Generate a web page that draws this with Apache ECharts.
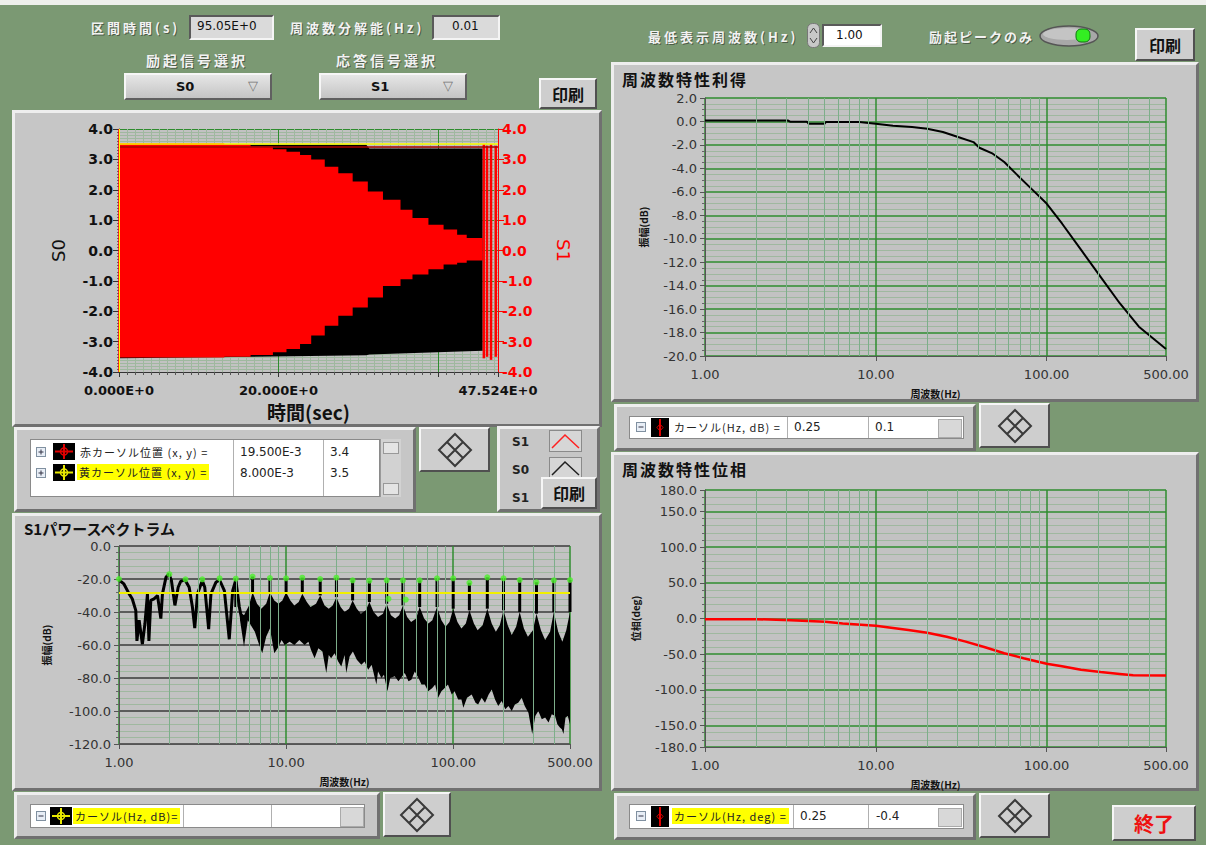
<!DOCTYPE html>
<html>
<head>
<meta charset="utf-8">
<title>周波数特性</title>
<script src="https://cdn.jsdelivr.net/npm/echarts@6/dist/echarts.min.js"></script>
<style>
  html, body { margin:0; padding:0; }
  body { width:1206px; height:845px; position:relative; overflow:hidden; background:#7b9973; font-family:"Noto Sans CJK JP", sans-serif; }
  #topStrip { position:absolute; left:0; top:0; width:1206px; height:5px; background:#eef0ec; }
  .lbl { position:absolute; color:#f2f2f2; font-size:13px; font-weight:bold; white-space:nowrap; letter-spacing:3px; text-shadow:1px 1px 0 #4d5d48; line-height:16px; }
  .panel { position:absolute; box-sizing:border-box; background:#c6c6c6; border:3px solid; border-color:#eeeeee #707070 #707070 #eeeeee; }
  .ind { position:absolute; box-sizing:border-box; background:#dadada; border:2px solid; border-color:#5a5a5a #f4f4f4 #f4f4f4 #5a5a5a; font:12px "DejaVu Sans"; color:#111; padding-left:6px; line-height:19px; }
  .btn { position:absolute; box-sizing:border-box; background:#cecece; border:2px solid; border-color:#f6f6f6 #505050 #505050 #f6f6f6; text-align:center; font-weight:bold; font-size:16px; color:#111; display:flex; align-items:center; justify-content:center; }
  .dd { position:absolute; box-sizing:border-box; background:linear-gradient(#e6e6e6,#c4c4c4); border:2px solid; border-color:#f6f6f6 #606060 #606060 #f6f6f6; font:bold 13px "DejaVu Sans"; color:#111; }
  .title { position:absolute; font-size:16px; font-weight:bold; color:#111; white-space:nowrap; letter-spacing:2px; line-height:18px; }
  .wbox { position:absolute; box-sizing:border-box; background:#ffffff; border:1px solid #8a8a8a; }
  .cell { position:absolute; font:12px "DejaVu Sans"; color:#222; white-space:nowrap; line-height:16px; }
  .jp { font-family:"Noto Sans CJK JP"; font-size:11px; letter-spacing:1px; }
  .vdiv { position:absolute; width:1px; background:#b0b0b0; }
  .hl { background:#ffff00; }
  #chart { position:absolute; left:0; top:0; width:1206px; height:845px; z-index:5; }
</style>
</head>
<body>
<div id="topStrip"></div>

<!-- 上段左の設定 -->
<div class="lbl" style="left:91px;top:20px">区間時間(s)</div>
<div class="ind" style="left:189px;top:15px;width:85px;height:25px">95.05E+0</div>
<div class="lbl" style="left:290px;top:20px">周波数分解能(Hz)</div>
<div class="ind" style="left:432px;top:15px;width:68px;height:25px;padding-left:18px">0.01</div>
<div class="lbl" style="left:146px;top:52px;font-size:14px">励起信号選択</div>
<div class="lbl" style="left:336px;top:52px;font-size:14px">応答信号選択</div>
<div class="dd" style="left:124px;top:73px;width:148px;height:27px"><span style="position:absolute;left:50px;top:4px">S0</span><span style="position:absolute;left:122px;top:3px;color:#777;font-weight:normal">▽</span></div>
<div class="dd" style="left:319px;top:73px;width:148px;height:27px"><span style="position:absolute;left:50px;top:4px">S1</span><span style="position:absolute;left:122px;top:3px;color:#777;font-weight:normal">▽</span></div>
<div class="btn" style="left:539px;top:78px;width:58px;height:31px">印刷</div>

<!-- 時間波形パネル -->
<div class="panel" style="left:12px;top:110px;width:590px;height:317px"></div>

<!-- カーソル表 (時間) -->
<div class="panel" style="left:14px;top:427px;width:402px;height:85px"></div>
<div class="wbox" style="left:30px;top:439px;width:350px;height:58px"></div>
<div class="vdiv" style="left:233px;top:440px;height:56px"></div>
<div class="vdiv" style="left:323px;top:440px;height:56px"></div>
<svg style="position:absolute;left:36px;top:447px" width="10" height="10"><rect x="0.5" y="0.5" width="9" height="9" fill="#e8eef6" stroke="#8090a0"/><path d="M2.5 5 H7.5 M5 2.5 V7.5" stroke="#334" /></svg>
<svg style="position:absolute;left:53px;top:443px" width="22" height="17"><rect width="22" height="17" fill="#000"/><path d="M11 1 V16 M2 8.5 H20" stroke="#e00000" stroke-width="2"/><circle cx="11" cy="8.5" r="3.5" fill="none" stroke="#e00000" stroke-width="1.5"/></svg>
<div class="cell jp" style="left:80px;top:444px">赤カーソル位置 (x, y) =</div>
<div class="cell" style="left:240px;top:444px">19.500E-3</div>
<div class="cell" style="left:330px;top:444px">3.4</div>
<svg style="position:absolute;left:36px;top:468px" width="10" height="10"><rect x="0.5" y="0.5" width="9" height="9" fill="#e8eef6" stroke="#8090a0"/><path d="M2.5 5 H7.5 M5 2.5 V7.5" stroke="#334" /></svg>
<svg style="position:absolute;left:53px;top:464px" width="22" height="17"><rect width="22" height="17" fill="#000"/><path d="M11 1 V16 M2 8.5 H20" stroke="#e8e800" stroke-width="2"/><circle cx="11" cy="8.5" r="3.5" fill="none" stroke="#e8e800" stroke-width="1.5"/></svg>
<div class="cell jp hl" style="left:77px;top:464px;padding:0 2px">黄カーソル位置 (x, y) =</div>
<div class="cell" style="left:240px;top:465px">8.000E-3</div>
<div class="cell" style="left:330px;top:465px">3.5</div>
<div style="position:absolute;left:380px;top:439px;width:20px;height:58px;background:#d2d2d2;border-left:1px solid #999"></div>
<div style="position:absolute;left:383px;top:442px;width:14px;height:10px;background:#e4e4e4;border:1px solid #999"></div>
<div style="position:absolute;left:383px;top:483px;width:14px;height:10px;background:#e4e4e4;border:1px solid #999"></div>
<div class="btn" style="left:419px;top:427px;width:71px;height:45px"><svg width="36" height="36" viewBox="0 0 36 36"><path d="M18 2 L34 18 L18 34 L2 18 Z M10 10 L26 26 M26 10 L10 26" fill="none" stroke="#3a3a3a" stroke-width="2"/></svg></div>

<!-- 凡例 -->
<div class="panel" style="left:497px;top:426px;width:103px;height:86px"></div>
<div class="cell" style="left:512px;top:434px;font-weight:bold">S1</div>
<svg style="position:absolute;left:549px;top:430px" width="33" height="22"><rect x="0.5" y="0.5" width="32" height="21" fill="#d6d6d6" stroke="#8a8a8a"/><polyline points="3,18 16,5 30,18" fill="none" stroke="#ff2020" stroke-width="1.5"/></svg>
<div class="cell" style="left:512px;top:462px;font-weight:bold">S0</div>
<svg style="position:absolute;left:549px;top:457px" width="33" height="22"><rect x="0.5" y="0.5" width="32" height="21" fill="#d6d6d6" stroke="#8a8a8a"/><polyline points="3,18 16,5 30,18" fill="none" stroke="#202020" stroke-width="1.5"/></svg>
<div class="cell" style="left:512px;top:490px;font-weight:bold">S1</div>
<div class="btn" style="left:541px;top:477px;width:56px;height:32px">印刷</div>

<!-- パワースペクトラム -->
<div class="panel" style="left:12px;top:513px;width:590px;height:278px"></div>
<div class="title" style="left:24px;top:520px;font-size:15px;letter-spacing:0">S1パワースペクトラム</div>
<div class="panel" style="left:14px;top:792px;width:366px;height:47px"></div>
<div class="wbox" style="left:30px;top:804px;width:335px;height:24px"></div>
<svg style="position:absolute;left:36px;top:811px" width="10" height="10"><rect x="0.5" y="0.5" width="9" height="9" fill="#e8eef6" stroke="#8090a0"/><path d="M2.5 5 H7.5" stroke="#334" /></svg>
<svg style="position:absolute;left:50px;top:807px" width="22" height="18"><rect width="22" height="18" fill="#000"/><path d="M11 1 V17 M2 9 H20" stroke="#e8e800" stroke-width="2"/><circle cx="11" cy="9" r="3.5" fill="none" stroke="#e8e800" stroke-width="1.5"/></svg>
<div class="cell jp hl" style="left:73px;top:808px;padding:0 2px">カーソル(Hz, dB)=</div>
<div class="vdiv" style="left:183px;top:805px;height:22px"></div>
<div class="vdiv" style="left:271px;top:805px;height:22px"></div>
<div style="position:absolute;left:340px;top:807px;width:22px;height:18px;background:#d8d8d8;border:1px solid #aaa"></div>
<div class="btn" style="left:383px;top:792px;width:68px;height:45px"><svg width="36" height="36" viewBox="0 0 36 36"><path d="M18 2 L34 18 L18 34 L2 18 Z M10 10 L26 26 M26 10 L10 26" fill="none" stroke="#3a3a3a" stroke-width="2"/></svg></div>

<!-- 右上の設定 -->
<div class="lbl" style="left:648px;top:29px">最低表示周波数(Hz)</div>
<svg style="position:absolute;left:807px;top:23px" width="13" height="25"><rect x="0.5" y="0.5" width="12" height="24" rx="5" fill="#c8c8c8" stroke="#777"/><path d="M3 10 L6.5 5 L10 10 M3 15 L6.5 20 L10 15" fill="none" stroke="#444"/></svg>
<div class="ind" style="left:822px;top:24px;width:60px;height:23px;background:#ffffff;padding-left:12px">1.00</div>
<div class="lbl" style="left:929px;top:29px;letter-spacing:2px">励起ピークのみ</div>
<svg style="position:absolute;left:1038px;top:24px" width="62" height="24"><ellipse cx="31" cy="12" rx="29" ry="10" fill="#a8a8a8" stroke="#555" stroke-width="1.5"/><ellipse cx="29" cy="10" rx="24" ry="6" fill="#c4c4c4"/><rect x="38" y="5" width="14" height="13" rx="5" fill="#33ee22" stroke="#117711"/></svg>
<div class="btn" style="left:1135px;top:28px;width:60px;height:33px">印刷</div>

<!-- 周波数特性利得 -->
<div class="panel" style="left:611px;top:62px;width:588px;height:340px"></div>
<div class="title" style="left:622px;top:70px">周波数特性利得</div>
<div class="panel" style="left:614px;top:404px;width:362px;height:47px"></div>
<div class="wbox" style="left:629px;top:416px;width:335px;height:23px"></div>
<svg style="position:absolute;left:636px;top:422px" width="10" height="10"><rect x="0.5" y="0.5" width="9" height="9" fill="#e8eef6" stroke="#8090a0"/><path d="M2.5 5 H7.5" stroke="#334" /></svg>
<svg style="position:absolute;left:651px;top:418px" width="18" height="19"><rect width="18" height="19" fill="#000"/><path d="M9 1 V18" stroke="#e00000" stroke-width="2"/><path d="M9 6 L12 9.5 L9 13 L6 9.5 Z" fill="none" stroke="#e00000"/></svg>
<div class="cell jp" style="left:674px;top:419px">カーソル(Hz, dB) =</div>
<div class="vdiv" style="left:787px;top:417px;height:21px"></div>
<div class="vdiv" style="left:868px;top:417px;height:21px"></div>
<div class="cell" style="left:794px;top:419px">0.25</div>
<div class="cell" style="left:875px;top:419px">0.1</div>
<div style="position:absolute;left:938px;top:419px;width:22px;height:17px;background:#d8d8d8;border:1px solid #aaa"></div>
<div class="btn" style="left:979px;top:403px;width:71px;height:45px"><svg width="36" height="36" viewBox="0 0 36 36"><path d="M18 2 L34 18 L18 34 L2 18 Z M10 10 L26 26 M26 10 L10 26" fill="none" stroke="#3a3a3a" stroke-width="2"/></svg></div>

<!-- 周波数特性位相 -->
<div class="panel" style="left:611px;top:452px;width:588px;height:339px"></div>
<div class="title" style="left:622px;top:460px">周波数特性位相</div>
<div class="panel" style="left:614px;top:793px;width:362px;height:47px"></div>
<div class="wbox" style="left:629px;top:804px;width:335px;height:25px"></div>
<svg style="position:absolute;left:636px;top:811px" width="10" height="10"><rect x="0.5" y="0.5" width="9" height="9" fill="#e8eef6" stroke="#8090a0"/><path d="M2.5 5 H7.5" stroke="#334" /></svg>
<svg style="position:absolute;left:651px;top:806px" width="18" height="21"><rect width="18" height="21" fill="#000"/><path d="M9 1 V20" stroke="#e00000" stroke-width="2"/><path d="M9 7 L12 10.5 L9 14 L6 10.5 Z" fill="none" stroke="#e00000"/></svg>
<div class="cell jp hl" style="left:672px;top:808px;padding:0 2px">カーソル(Hz, deg) =</div>
<div class="vdiv" style="left:793px;top:805px;height:23px"></div>
<div class="vdiv" style="left:868px;top:805px;height:23px"></div>
<div class="cell" style="left:800px;top:808px">0.25</div>
<div class="cell" style="left:876px;top:808px">-0.4</div>
<div style="position:absolute;left:938px;top:808px;width:22px;height:17px;background:#d8d8d8;border:1px solid #aaa"></div>
<div class="btn" style="left:979px;top:793px;width:71px;height:45px"><svg width="36" height="36" viewBox="0 0 36 36"><path d="M18 2 L34 18 L18 34 L2 18 Z M10 10 L26 26 M26 10 L10 26" fill="none" stroke="#3a3a3a" stroke-width="2"/></svg></div>
<div class="btn" style="left:1112px;top:805px;width:84px;height:36px;color:#ee1111;font-size:20px">終了</div>

<div id="chart"></div>

<script>
// ---- 時間波形 (S0 / S1 の包絡) ----
var timeLabelT = [0, 20, 47.524];
var s0T  = [0, 31.0, 31.4, 45.6];
var s0Up = [3.48, 3.48, 3.36, 3.36];
var s0Lo = [-3.55, -3.45, -3.42, -3.30];
var s1T  = [0, 13.2, 16.5, 19.3, 21.0, 22.7, 24.1, 25.8, 27.5, 29.3, 31.2, 33.1, 35.3, 36.8, 38.8, 40.7, 42.4, 43.6, 45.6];
var s1Up = [3.53, 3.49, 3.42, 3.33, 3.25, 3.14, 3.0, 2.76, 2.54, 2.27, 1.94, 1.67, 1.34, 1.07, 0.85, 0.69, 0.52, 0.41, 0.36];
var s1Lo = [-3.52, -3.50, -3.44, -3.35, -3.24, -3.08, -2.80, -2.48, -2.15, -1.88, -1.55, -1.17, -0.95, -0.79, -0.62, -0.46, -0.40, -0.33, -0.29];
var endT  = [45.75, 46.15, 46.65, 47.25];
var endUp = [3.5, 3.45, 3.5, 3.45];
var endLo = [-3.55, -3.5, -3.6, -3.5];
var redCursor = [0.0195, 3.4];
var yellowCursor = [0.008, 3.5];

// ---- S1パワースペクトラム ----
var lowF  = [1.0, 1.07, 1.15, 1.20, 1.26, 1.28, 1.32, 1.38, 1.43, 1.48, 1.51, 1.55, 1.62, 1.70, 1.78, 1.82, 1.91, 1.99, 2.06, 2.16, 2.26, 2.34, 2.48, 2.63, 2.75, 2.84, 2.95, 3.15, 3.26, 3.44, 3.55, 3.80, 4.0, 4.27, 4.57, 4.79, 5.0, 5.25, 5.44];
var lowDb = [-20.6, -23, -29, -32, -39, -57.5, -45, -59.5, -47, -29, -57.5, -33, -32, -30, -44, -29, -19, -17, -21, -36, -25, -21.4, -20.5, -25, -37, -49.8, -29, -21, -25, -50.4, -29, -22, -20.6, -27, -56.5, -27, -20.6, -37, -45];
var bandTopF  = [5.3, 5.6, 6.0, 6.3, 6.7, 7.1, 7.6, 8.0, 8.5, 9.0, 9.5, 10, 10.6, 11.2, 11.9, 12.5, 13.3, 14, 15.1, 16, 17, 18, 19, 20, 21.2, 22.4, 23.8, 25, 26.5, 28, 30, 31.5, 33.4, 35.5, 38, 40, 42.4, 45, 47.5, 50, 53, 56, 60, 63, 67, 71, 75, 80, 85, 90, 95, 100, 106, 112, 119, 125, 133, 140, 150, 160, 170, 180, 190, 200, 212, 224, 238, 250, 265, 280, 300, 315, 335, 355, 380, 400, 425, 450, 475, 500];
var bandTopDb = [-40, -42, -36, -28, -35, -38, -35, -28, -33, -35, -33, -28, -33, -36, -34, -29, -34, -37, -35, -30, -36, -38, -36, -31, -37, -40, -38, -33, -38, -41, -39, -34, -40, -43, -41, -35, -42, -44, -42, -36, -43, -46, -44, -37, -44, -47, -45, -37, -45, -49, -46, -38, -46, -50, -47, -39, -47, -51, -48, -38, -47, -52, -48, -39, -48, -54, -49, -40, -50, -55, -51, -41, -51, -57, -52, -40, -52, -58, -51, -40];
var bandBotF  = [5.3, 5.6, 5.9, 6.5, 6.8, 7.2, 7.6, 8.0, 8.5, 8.9, 9.4, 9.8, 10.5, 11.2, 12.0, 12.9, 13.6, 14.1, 14.8, 15.6, 16.5, 17.4, 18.0, 18.6, 19.5, 20.5, 21.4, 22.4, 22.9, 24, 25.1, 26.5, 28.2, 29.5, 31, 32.5, 34.7, 35.5, 37.2, 38.5, 40.4, 42, 44.7, 47, 51.3, 54, 56.2, 58.9, 62, 64.6, 67.6, 70.8, 75, 78, 81.2, 85, 89, 93, 98, 102, 107, 112, 115, 121, 129, 136, 141, 148, 155, 163, 170, 178, 186, 195, 205, 214, 224, 234, 245, 257, 268, 282, 297, 310, 323, 339, 355, 372, 389, 407, 420, 435, 447, 457, 470, 485, 500];
var bandBotDb = [-45, -61, -45, -52, -58, -65, -55, -50, -65, -62, -57, -60, -58, -60, -57, -60, -58, -63, -68, -62, -64, -77, -66, -68, -65, -70, -73, -66, -77, -67, -64, -69, -72, -70, -75, -72, -84, -76, -80, -78, -88, -80, -79, -82, -77, -82, -81, -76, -80, -84, -84, -88, -86, -84, -92, -88, -86, -84, -90, -88, -93, -93, -98, -92, -90, -95, -96, -92, -95, -90, -87, -93, -97, -94, -99, -97, -100, -96, -95, -92, -97, -101, -114, -103, -100, -105, -104, -107, -102, -103, -108, -110, -111, -114, -104, -103, -108];
var peakF  = [1, 2, 2.5, 3.15, 4, 5, 6.3, 8, 10, 12.5, 16, 20, 25, 31.5, 40, 50, 63, 80, 100, 125, 160, 200, 250, 315, 400, 500];
var peakDb = [-20.0, -17.1, -20.2, -20.2, -19.6, -19.8, -18.5, -19.4, -19.6, -19.2, -20.0, -19.2, -20.8, -21.0, -20.8, -20.8, -20.8, -19.6, -19.6, -22.3, -19.0, -19.6, -20.6, -22.0, -20.8, -20.6];
var spikeBase = [null, null, null, null, null, -37, -28, -28, -28, -29, -30, -31, -33, -34, -35, -36, -37, -37, -38, -39, -38, -39, -40, -41, -40, -40];
var extraPeakF  = [41, 52];
var extraPeakDb = [-32, -32.5];
var specCursorDb = -28.4;

// ---- 周波数特性 ----
var gainF  = [1, 3.05, 3.15, 3.95, 4.05, 5.0, 5.1, 8.0, 10, 12.6, 16.3, 20, 24.7, 30.3, 37.3, 40.4, 48.4, 56.5, 66.1, 81.3, 100, 123, 160, 207, 268, 347, 500];
var gainDb = [0.08, 0.08, -0.02, -0.02, -0.2, -0.2, -0.05, -0.05, -0.2, -0.37, -0.48, -0.62, -0.9, -1.33, -1.76, -2.24, -2.75, -3.46, -4.45, -5.73, -7.0, -8.7, -11.0, -13.25, -15.5, -17.5, -19.4];
var phaseF   = [1, 2.0, 3.18, 5.07, 6.4, 10, 15.5, 20, 26, 33.6, 43.6, 56.5, 73.3, 100, 123, 159, 207, 268, 321, 500];
var phaseDeg = [-0.9, -1, -2.3, -4.6, -7, -10, -16, -20, -25.5, -32.4, -40.3, -48.6, -55.6, -63.4, -67, -71.8, -75, -77.7, -79.6, -80];
var logMinorF = [2, 3, 4, 5, 6, 7, 8, 9, 20, 30, 40, 50, 60, 70, 80, 90, 200, 300, 400];

function zip(xs, ys) {
  var out = [];
  for (var i = 0; i < xs.length; i++) out.push([xs[i], ys[i]]);
  return out;
}

var chart = echarts.init(document.getElementById('chart'), null, { renderer: 'svg' });

var GRID_BG = '#c2c2c2';
var MAJOR = '#2f8c2f';
var MINOR = '#9fb89f';
var numFont = 'DejaVu Sans';
var jpName = { fontFamily: 'Noto Sans CJK JP', fontSize: 10, fontWeight: 'bold', color: '#111' };

function logAxis(grid) {
  return {
    gridIndex: grid, type: 'log', logBase: 10, min: 1, max: 500,
    axisLine: { show: true, onZero: false, lineStyle: { color: '#555' } },
    axisTick: { show: true, length: 5, lineStyle: { color: '#555' } },
    axisLabel: { formatter: function (v) { return v.toFixed(2); }, color: '#333', fontFamily: numFont, fontSize: 13, margin: 12 },
    splitLine: { show: true, lineStyle: { color: MAJOR, width: 1.5 } },
    name: '周波数(Hz)', nameLocation: 'middle', nameGap: 32, nameTextStyle: jpName
  };
}
function valAxis(grid, min, max, interval, minorN, majorColor, name, gap) {
  var ax = {
    gridIndex: grid, type: 'value', min: min, max: max,
    axisLine: { show: true, lineStyle: { color: '#555' } },
    axisTick: { show: true, length: 5, lineStyle: { color: '#555' } },
    minorTick: { show: true, splitNumber: minorN, length: 3, lineStyle: { color: '#666' } },
    axisLabel: { formatter: function (v) { return v.toFixed(1); }, color: '#333', fontFamily: numFont, fontSize: 13, margin: 8 },
    splitLine: { show: true, lineStyle: { color: majorColor, width: 1.5 } },
    minorSplitLine: { show: true, lineStyle: { color: MINOR } },
    name: name, nameLocation: 'middle', nameGap: gap, nameRotate: 90, nameTextStyle: jpName
  };
  if (interval) ax.interval = interval; else ax.splitNumber = 7;
  return ax;
}
function minorLogLines(xi, yi) {
  return {
    type: 'line', xAxisIndex: xi, yAxisIndex: yi, data: [], silent: true, z: 1,
    markLine: {
      silent: true, symbol: ['none', 'none'], label: { show: false },
      lineStyle: { color: '#7dae8a', width: 1, type: 'solid' },
      data: logMinorF.map(function (f) { return { xAxis: f }; })
    }
  };
}

var spikeData = [];
peakF.forEach(function (f, i) { if (spikeBase[i] !== null) spikeData.push([f, peakDb[i], spikeBase[i]]); });
var endData = endT.map(function (t, i) { return [t, endUp[i], endLo[i]]; });

function vLine(color, width) {
  return function (params, api) {
    var a = api.coord([api.value(0), api.value(1)]);
    var b = api.coord([api.value(0), api.value(2)]);
    return { type: 'line', shape: { x1: a[0], y1: a[1], x2: b[0], y2: b[1] }, style: { stroke: color, lineWidth: width } };
  };
}
// 包絡 (上側 → 下側) を一つの多角形に
function envPoly(ts, ups, los, stepped, color) {
  return function (params, api) {
    var pts = [], i;
    for (i = 0; i < ts.length; i++) {
      if (stepped && i > 0) pts.push(api.coord([ts[i], ups[i - 1]]));
      pts.push(api.coord([ts[i], ups[i]]));
    }
    for (i = ts.length - 1; i >= 0; i--) {
      pts.push(api.coord([ts[i], los[i]]));
      if (stepped && i > 0) pts.push(api.coord([ts[i], los[i - 1]]));
    }
    return { type: 'polygon', shape: { points: pts }, style: { fill: color } };
  };
}

var option = {
  animation: false,
  grid: [
    { left: 119, top: 129, width: 379, height: 243, show: true, backgroundColor: GRID_BG, borderWidth: 0 },
    { left: 119, top: 546, width: 451, height: 198, show: true, backgroundColor: GRID_BG, borderWidth: 0 },
    { left: 705, top: 98, width: 461, height: 258, show: true, backgroundColor: GRID_BG, borderWidth: 0 },
    { left: 705, top: 490, width: 461, height: 257, show: true, backgroundColor: GRID_BG, borderWidth: 0 }
  ],
  xAxis: [
    {
      gridIndex: 0, type: 'value', min: 0, max: 47.524, interval: 20,
      axisLine: { show: true, onZero: false, lineStyle: { color: '#333' } },
      axisTick: { show: true, length: 5, lineStyle: { color: '#333' } },
      minorTick: { show: true, splitNumber: 20, length: 3, lineStyle: { color: '#555' } },
      axisLabel: { customValues: timeLabelT, formatter: function (v) { return v.toFixed(3) + 'E+0'; }, color: '#111', fontFamily: numFont, fontWeight: 'bold', fontSize: 13, margin: 12 },
      splitLine: { show: true, lineStyle: { color: MAJOR } },
      minorSplitLine: { show: true, lineStyle: { color: MINOR } },
      name: '時間(sec)', nameLocation: 'middle', nameGap: 30,
      nameTextStyle: { fontFamily: 'Noto Sans CJK JP', fontSize: 19, fontWeight: 'bold', color: '#111' }
    },
    logAxis(1), logAxis(2), logAxis(3)
  ],
  yAxis: [
    {
      gridIndex: 0, type: 'value', min: -4, max: 4, interval: 1, position: 'left',
      axisLine: { show: true, lineStyle: { color: '#333' } },
      axisTick: { show: true, length: 6, lineStyle: { color: '#333' } },
      minorTick: { show: true, splitNumber: 10, length: 2, lineStyle: { color: '#666' } },
      axisLabel: { formatter: function (v) { return v.toFixed(1); }, color: '#111', fontFamily: numFont, fontWeight: 'bold', fontSize: 14, margin: 6 },
      splitLine: { show: true, lineStyle: { color: MAJOR } },
      minorSplitLine: { show: true, lineStyle: { color: MINOR } },
      name: 'S0', nameLocation: 'middle', nameGap: 52, nameRotate: 90,
      nameTextStyle: { fontFamily: numFont, fontSize: 18, color: '#111' }
    },
    {
      gridIndex: 0, type: 'value', min: -4, max: 4, interval: 1, position: 'right',
      axisLine: { show: true, lineStyle: { color: '#ff0000' } },
      axisTick: { show: true, length: 6, lineStyle: { color: '#ff0000' } },
      axisLabel: { formatter: function (v) { return v.toFixed(1); }, color: '#ff0000', fontFamily: numFont, fontWeight: 'bold', fontSize: 14, margin: 4 },
      splitLine: { show: false },
      name: 'S1', nameLocation: 'middle', nameGap: 56, nameRotate: -90,
      nameTextStyle: { fontFamily: numFont, fontSize: 18, color: '#ff0000' }
    },
    valAxis(1, -120, 0, 20, 5, '#3a3a3a', '振幅(dB)', 68),
    valAxis(2, -20, 2, 2, 4, MAJOR, '振幅(dB)', 57),
    valAxis(3, -180, 180, null, 5, MAJOR, '位相(deg)', 65)
  ],
  series: [
    // 時間波形
    { type: 'custom', xAxisIndex: 0, yAxisIndex: 0, data: [[20, 0]], renderItem: envPoly(s0T, s0Up, s0Lo, false, '#000000'), z: 2 },
    { type: 'custom', xAxisIndex: 0, yAxisIndex: 0, data: [[20, 0]], renderItem: envPoly(s1T, s1Up, s1Lo, true, '#ff0000'), z: 3 },
    { type: 'custom', xAxisIndex: 0, yAxisIndex: 0, data: endData, renderItem: vLine('#ff0000', 2.5), z: 3 },
    {
      type: 'line', xAxisIndex: 0, yAxisIndex: 0, data: [], silent: true, z: 5,
      markLine: {
        silent: true, symbol: ['none', 'none'], label: { show: false },
        data: [
          { xAxis: redCursor[0], lineStyle: { color: '#ff0000', width: 1.5, type: 'solid' } },
          { yAxis: redCursor[1], lineStyle: { color: '#aa0000', width: 1.5, type: 'solid' } },
          { yAxis: yellowCursor[1], lineStyle: { color: '#ffff00', width: 1.5, type: 'solid' } },
          { xAxis: yellowCursor[0], lineStyle: { color: '#ffff00', width: 1, type: 'solid' } }
        ]
      }
    },

    // パワースペクトラム
    minorLogLines(1, 2),
    {
      type: 'custom', xAxisIndex: 1, yAxisIndex: 2, data: [[10, -50]], z: 2,
      renderItem: function (params, api) {
        var pts = [];
        for (var i = 0; i < bandTopF.length; i++) pts.push(api.coord([bandTopF[i], bandTopDb[i]]));
        for (var j = bandBotF.length - 1; j >= 0; j--) pts.push(api.coord([bandBotF[j], bandBotDb[j]]));
        return { type: 'polygon', shape: { points: pts }, style: { fill: '#000' } };
      }
    },
    { type: 'line', xAxisIndex: 1, yAxisIndex: 2, data: zip(lowF, lowDb), showSymbol: false, lineStyle: { color: '#000', width: 3 }, z: 3 },
    { type: 'custom', xAxisIndex: 1, yAxisIndex: 2, data: spikeData, renderItem: vLine('#000', 3), z: 3 },
    {
      type: 'line', xAxisIndex: 1, yAxisIndex: 2, data: [], silent: true, z: 4,
      markLine: { silent: true, symbol: ['none', 'none'], label: { show: false }, lineStyle: { color: '#f0f000', width: 2, type: 'solid' }, data: [{ yAxis: specCursorDb }] }
    },
    { type: 'scatter', xAxisIndex: 1, yAxisIndex: 2, data: zip(peakF, peakDb).concat(zip(extraPeakF, extraPeakDb)), symbolSize: 6, itemStyle: { color: '#4cf02c' }, z: 5 },

    // 利得
    minorLogLines(2, 3),
    { type: 'line', xAxisIndex: 2, yAxisIndex: 3, data: zip(gainF, gainDb), showSymbol: false, lineStyle: { color: '#000', width: 2 }, z: 3 },

    // 位相
    minorLogLines(3, 4),
    { type: 'line', xAxisIndex: 3, yAxisIndex: 4, data: zip(phaseF, phaseDeg), showSymbol: false, lineStyle: { color: '#ff0000', width: 2.5 }, z: 3 }
  ]
};
chart.setOption(option);
</script>
</body>
</html>
